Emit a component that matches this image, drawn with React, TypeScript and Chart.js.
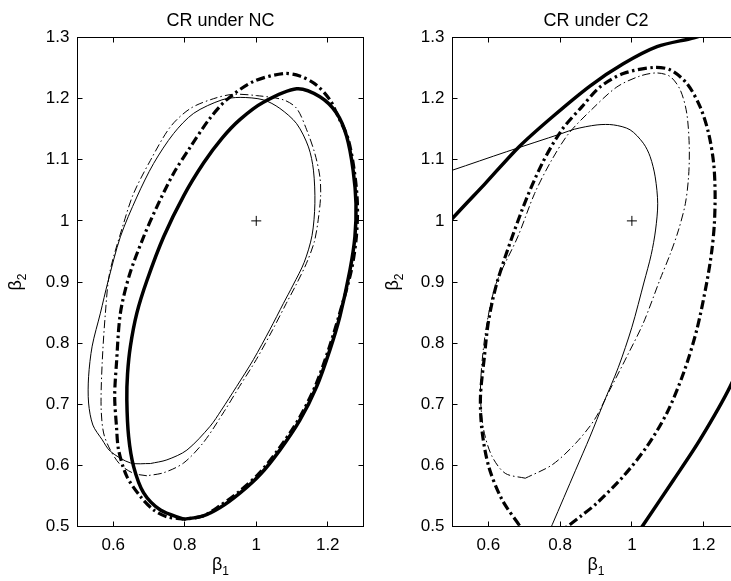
import React, { useEffect, useRef } from 'react';
import { Chart, registerables } from 'chart.js';

Chart.register(...registerables);

// ---------------- data ----------------
const X_TICKS = [0.6, 0.8, 1, 1.2];
const Y_TICKS = [0.5, 0.6, 0.7, 0.8, 0.9, 1, 1.1, 1.2, 1.3];
const X_MIN = 0.5;
const X_MAX = 1.3;
const Y_MIN = 0.5;
const Y_MAX = 1.3;
const TITLES = ['CR under NC', 'CR under C2'];
const X_LABEL = ['β', '1'];
const Y_LABEL = ['β', '2'];
const TRUE_POINT: [number, number][] = [[1, 1]];

// CR under NC
const NC_THIN_SOLID: [number, number][] = [
  [0.704, 0.603], [0.648, 0.604], [0.592, 0.623], [0.569, 0.642], [0.543, 0.666], [0.531, 0.702],
  [0.531, 0.745], [0.541, 0.795], [0.564, 0.849], [0.585, 0.900], [0.620, 0.974], [0.666, 1.039],
  [0.713, 1.094], [0.769, 1.143], [0.825, 1.176], [0.904, 1.198], [0.955, 1.202], [1.020, 1.198],
  [1.066, 1.184], [1.113, 1.159], [1.146, 1.121], [1.160, 1.083], [1.164, 1.028], [1.156, 0.976],
  [1.134, 0.932], [1.103, 0.895], [1.076, 0.865], [1.038, 0.822], [0.992, 0.773], [0.945, 0.729],
  [0.902, 0.690], [0.871, 0.664], [0.806, 0.625], [0.750, 0.609], [0.704, 0.603],
];
const NC_THIN_DASHDOT: [number, number][] = [
  [0.694, 0.583], [0.657, 0.587], [0.620, 0.601], [0.592, 0.625], [0.573, 0.653], [0.566, 0.696],
  [0.569, 0.767], [0.578, 0.849], [0.590, 0.915], [0.629, 0.996], [0.657, 1.045], [0.704, 1.099],
  [0.760, 1.154], [0.816, 1.184], [0.881, 1.200], [0.935, 1.207], [1.000, 1.205], [1.076, 1.198],
  [1.113, 1.184], [1.141, 1.149], [1.164, 1.110], [1.178, 1.072], [1.180, 1.040], [1.172, 0.996],
  [1.162, 0.965], [1.140, 0.930], [1.111, 0.895], [1.084, 0.865], [1.046, 0.822], [1.000, 0.773],
  [0.953, 0.729], [0.910, 0.688], [0.853, 0.638], [0.797, 0.604], [0.741, 0.588], [0.694, 0.583],
];
const NC_THICK_DASHDOT: [number, number][] = [
  [0.800, 0.512], [0.750, 0.516], [0.713, 0.527], [0.676, 0.549], [0.638, 0.582], [0.615, 0.625],
  [0.609, 0.664], [0.604, 0.713], [0.609, 0.767], [0.620, 0.849], [0.645, 0.911], [0.685, 0.974],
  [0.722, 1.023], [0.769, 1.078], [0.816, 1.121], [0.868, 1.166], [0.917, 1.198], [0.992, 1.228],
  [1.076, 1.241], [1.122, 1.237], [1.169, 1.222], [1.206, 1.198], [1.228, 1.172], [1.256, 1.136],
  [1.274, 1.083], [1.283, 1.028], [1.280, 0.974], [1.266, 0.919], [1.232, 0.846], [1.203, 0.791],
  [1.166, 0.731], [1.119, 0.676], [1.063, 0.627], [1.008, 0.587], [0.952, 0.557], [0.896, 0.533],
  [0.850, 0.517], [0.800, 0.512],
];
const NC_THICK_SOLID: [number, number][] = [
  [0.797, 0.512], [0.732, 0.527], [0.685, 0.555], [0.657, 0.598], [0.643, 0.647], [0.638, 0.707],
  [0.640, 0.750], [0.648, 0.795], [0.666, 0.849], [0.694, 0.902], [0.741, 0.974], [0.797, 1.041],
  [0.853, 1.095], [0.904, 1.135], [0.955, 1.166], [1.020, 1.194], [1.113, 1.216], [1.178, 1.203],
  [1.225, 1.176], [1.253, 1.138], [1.271, 1.083], [1.279, 1.028], [1.276, 0.974], [1.262, 0.919],
  [1.234, 0.844], [1.206, 0.789], [1.169, 0.729], [1.122, 0.674], [1.066, 0.625], [1.011, 0.585],
  [0.955, 0.555], [0.899, 0.531], [0.850, 0.517], [0.797, 0.512],
];

// CR under C2
const C2_THIN_SOLID: [number, number][] = [
  [0.740, 0.452], [0.778, 0.503], [0.843, 0.592], [0.884, 0.648], [0.921, 0.702], [0.962, 0.760],
  [1.000, 0.826], [1.034, 0.900], [1.054, 0.945], [1.066, 0.985], [1.072, 1.028], [1.065, 1.072],
  [1.051, 1.105], [1.032, 1.127], [0.995, 1.149], [0.949, 1.157], [0.903, 1.157], [0.840, 1.150],
  [0.805, 1.143], [0.650, 1.113], [0.500, 1.083], [0.350, 1.054],
];
const C2_THIN_DASHDOT: [number, number][] = [
  [0.703, 0.579], [0.647, 0.587], [0.610, 0.615], [0.587, 0.658], [0.578, 0.713], [0.582, 0.767],
  [0.596, 0.833], [0.622, 0.898], [0.682, 0.974], [0.729, 1.045], [0.776, 1.099], [0.824, 1.143],
  [0.886, 1.181], [0.958, 1.219], [1.023, 1.237], [1.070, 1.242], [1.107, 1.236], [1.135, 1.214],
  [1.153, 1.176], [1.160, 1.121], [1.158, 1.072], [1.149, 1.028], [1.130, 0.985], [1.107, 0.946],
  [1.079, 0.905], [1.032, 0.833], [0.986, 0.778], [0.939, 0.724], [0.896, 0.675], [0.843, 0.636],
  [0.778, 0.601], [0.703, 0.579],
];
const C2_THICK_DASHDOT: [number, number][] = [
  [0.685, 0.503], [0.638, 0.544], [0.601, 0.598], [0.582, 0.658], [0.578, 0.713], [0.589, 0.778],
  [0.601, 0.838], [0.626, 0.903], [0.694, 1.018], [0.750, 1.094], [0.805, 1.149], [0.861, 1.187],
  [0.911, 1.219], [0.976, 1.241], [1.060, 1.251], [1.107, 1.247], [1.153, 1.225], [1.190, 1.187],
  [1.214, 1.143], [1.228, 1.094], [1.232, 1.045], [1.230, 0.996], [1.223, 0.952], [1.209, 0.900],
  [1.181, 0.822], [1.144, 0.751], [1.097, 0.685], [1.042, 0.631], [0.976, 0.582], [0.902, 0.538],
  [0.860, 0.518], [0.820, 0.500], [0.780, 0.485], [0.740, 0.480], [0.705, 0.488], [0.685, 0.503],
];
const C2_THICK_SOLID: [number, number][] = [
  [0.340, 0.880], [0.420, 0.948], [0.500, 1.004], [0.591, 1.061], [0.685, 1.121], [0.778, 1.170],
  [0.884, 1.221], [0.976, 1.257], [1.070, 1.285], [1.162, 1.298], [1.250, 1.310], [1.350, 1.300],
  [1.420, 1.150], [1.400, 0.950], [1.340, 0.820], [1.274, 0.729], [1.190, 0.642], [1.116, 0.576],
  [1.032, 0.503], [0.960, 0.440],
];

// ---------------- layout / style ----------------
const FONT = '"Liberation Sans", Arial, Helvetica, sans-serif';
const PAGE_W = 731;
const PAGE_H = 581;
const PLOT_TOP = 37.5;
const PLOT_BOTTOM = 526.5;

type Panel = {
  canvasLeft: number;
  canvasWidth: number;
  areaLeft: number;
  areaRight: number;
  yLabelX: number;
  title: string;
  curves: [number, number][][];
};

const PANELS: Panel[] = [
  {
    canvasLeft: 0, canvasWidth: 380, areaLeft: 77.5, areaRight: 363.5, yLabelX: 21,
    title: TITLES[0], curves: [NC_THIN_SOLID, NC_THIN_DASHDOT, NC_THICK_DASHDOT, NC_THICK_SOLID],
  },
  {
    canvasLeft: 380, canvasWidth: 380, areaLeft: 72.5, areaRight: 359.5, yLabelX: 18,
    title: TITLES[1], curves: [C2_THIN_SOLID, C2_THIN_DASHDOT, C2_THICK_DASHDOT, C2_THICK_SOLID],
  },
];

const CURVE_STYLES = [
  { borderWidth: 1, borderDash: [] as number[] },
  { borderWidth: 1, borderDash: [8, 3, 1.5, 3] },
  { borderWidth: 3.2, borderDash: [9, 3.5, 2.5, 3.5] },
  { borderWidth: 3.5, borderDash: [] as number[] },
];

function drawSubLabel(ctx: CanvasRenderingContext2D, main: string, sub: string, x: number, y: number, rotate: boolean) {
  ctx.save();
  ctx.translate(x, y);
  if (rotate) ctx.rotate(-Math.PI / 2);
  ctx.fillStyle = '#000';
  ctx.textAlign = 'left';
  ctx.textBaseline = 'alphabetic';
  ctx.font = `18px ${FONT}`;
  const w1 = ctx.measureText(main).width;
  ctx.font = `12px ${FONT}`;
  const w2 = ctx.measureText(sub).width;
  const start = -(w1 + w2) / 2;
  ctx.font = `18px ${FONT}`;
  ctx.fillText(main, start, 0);
  ctx.font = `12px ${FONT}`;
  ctx.fillText(sub, start + w1, 5);
  ctx.restore();
}

const framePlugin = {
  id: 'matlabFrame',
  afterDraw(chart: any, _args: any, opts: any) {
    const { ctx, chartArea: a, scales } = chart;
    ctx.save();
    ctx.strokeStyle = '#000';
    ctx.lineWidth = 1;
    ctx.setLineDash([]);
    ctx.strokeRect(a.left, a.top, a.right - a.left, a.bottom - a.top);
    const tl = 5;
    const snap = (v: number) => Math.round(v - 0.5) + 0.5;
    ctx.beginPath();
    for (const v of X_TICKS) {
      const px = snap(scales.x.getPixelForValue(v));
      ctx.moveTo(px, a.bottom);
      ctx.lineTo(px, a.bottom - tl);
      ctx.moveTo(px, a.top);
      ctx.lineTo(px, a.top + tl);
    }
    for (const v of Y_TICKS) {
      const py = snap(scales.y.getPixelForValue(v));
      ctx.moveTo(a.left, py);
      ctx.lineTo(a.left + tl, py);
      ctx.moveTo(a.right, py);
      ctx.lineTo(a.right - tl, py);
    }
    ctx.stroke();

    ctx.fillStyle = '#000';
    ctx.font = `18px ${FONT}`;
    ctx.textAlign = 'center';
    ctx.textBaseline = 'alphabetic';
    ctx.fillText(opts.title, (a.left + a.right) / 2, 26);

    drawSubLabel(ctx, X_LABEL[0], X_LABEL[1], (a.left + a.right) / 2, 570, false);
    drawSubLabel(ctx, Y_LABEL[0], Y_LABEL[1], opts.yLabelX, (a.top + a.bottom) / 2, true);
    ctx.restore();
  },
};

function buildConfig(panel: Panel): any {
  const datasets: any[] = panel.curves.map((pts, i) => ({
    data: pts.map(([x, y]) => ({ x, y })),
    showLine: true,
    borderColor: '#000',
    backgroundColor: '#000',
    borderWidth: CURVE_STYLES[i].borderWidth,
    borderDash: CURVE_STYLES[i].borderDash,
    borderCapStyle: 'butt',
    borderJoinStyle: 'round',
    pointRadius: 0,
    pointHoverRadius: 0,
    tension: 0.3,
    fill: false,
    clip: 0,
  }));
  datasets.push({
    data: TRUE_POINT.map(([x, y]) => ({ x, y })),
    showLine: false,
    pointStyle: 'cross',
    pointRadius: 5,
    pointBorderWidth: 1,
    borderColor: '#000',
    pointBorderColor: '#000',
    clip: 0,
  });

  const tickFont = { family: FONT, size: 17 };
  return {
    type: 'scatter',
    data: { datasets },
    plugins: [framePlugin],
    options: {
      responsive: false,
      animation: false,
      events: [],
      layout: {
        padding: { left: 0, top: PLOT_TOP, right: panel.canvasWidth - panel.areaRight, bottom: 0 },
      },
      plugins: {
        legend: { display: false },
        tooltip: { enabled: false },
        title: { display: false },
        matlabFrame: { title: panel.title, yLabelX: panel.yLabelX },
      },
      scales: {
        x: {
          type: 'linear',
          min: X_MIN,
          max: X_MAX,
          grid: { display: false, drawTicks: false },
          border: { display: false },
          afterBuildTicks: (s: any) => { s.ticks = X_TICKS.map((v) => ({ value: v })); },
          afterFit: (s: any) => { s.height = PAGE_H - PLOT_BOTTOM; },
          ticks: {
            color: '#000', font: tickFont, padding: 9, autoSkip: false, maxRotation: 0, minRotation: 0,
            callback: (v: number) => String(v),
          },
        },
        y: {
          type: 'linear',
          min: Y_MIN,
          max: Y_MAX,
          grid: { display: false, drawTicks: false },
          border: { display: false },
          afterBuildTicks: (s: any) => { s.ticks = Y_TICKS.map((v) => ({ value: v })); },
          afterFit: (s: any) => { s.width = panel.areaLeft; },
          ticks: {
            color: '#000', font: tickFont, padding: 8, autoSkip: false,
            callback: (v: number) => String(v),
          },
        },
      },
    },
  };
}

export default function App() {
  const ref0 = useRef<HTMLCanvasElement>(null);
  const ref1 = useRef<HTMLCanvasElement>(null);

  useEffect(() => {
    const refs = [ref0, ref1];
    const charts = PANELS.map((p, i) => new Chart(refs[i].current as HTMLCanvasElement, buildConfig(p)));
    return () => charts.forEach((c) => c.destroy());
  }, []);

  return (
    <div
      style={{
        position: 'fixed', left: 0, top: 0, width: PAGE_W, height: PAGE_H,
        overflow: 'hidden', background: '#fff',
      }}
    >
      {PANELS.map((p, i) => (
        <canvas
          key={i}
          ref={i === 0 ? ref0 : ref1}
          width={p.canvasWidth}
          height={PAGE_H}
          style={{ position: 'absolute', left: p.canvasLeft, top: 0, width: p.canvasWidth, height: PAGE_H }}
        />
      ))}
    </div>
  );
}
